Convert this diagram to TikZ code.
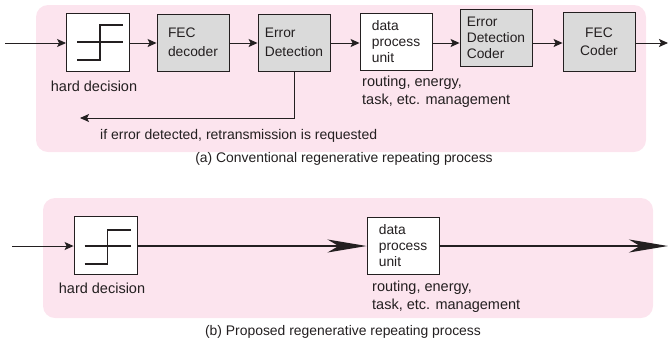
\documentclass[tikz,border=0pt]{standalone}
\usepackage{fontspec}
\setmainfont{Liberation Sans}
\usetikzlibrary{arrows.meta}
\definecolor{panelpink}{RGB}{252,228,238}
\definecolor{boxgray}{RGB}{218,218,218}
\definecolor{ink}{RGB}{35,31,32}
\tikzset{
  panel/.style={fill=panelpink, draw=none, rounded corners=12pt},
  blk/.style={draw=ink, line width=0.9pt, minimum width=72pt, minimum height=57pt, inner sep=0pt, align=left, text=ink, font=\fontsize{13.8}{19}\selectfont},
  whiteblk/.style={blk, fill=white},
  grayblk/.style={blk, fill=boxgray},
  hdblk/.style={draw=ink, line width=0.9pt, fill=white, minimum width=63pt, minimum height=58pt, inner sep=0pt},
  stepline/.style={draw=ink, line width=1.6pt},
  thinarrow/.style={draw=ink, line width=0.9pt, -{Stealth[length=9pt,width=8pt,inset=2pt]}},
  thickarrow/.style={draw=ink, line width=2.3pt, -{Stealth[length=39pt,width=13pt,inset=11pt]}},
  lbl/.style={text=ink, font=\fontsize{14.5}{17.5}\selectfont, inner sep=0pt, align=left},
  captext/.style={text=ink, font=\fontsize{13.9}{16}\selectfont, inner sep=0pt}
}
\begin{document}
\begin{tikzpicture}[x=1pt,y=-1pt]
\useasboundingbox (0,0) rectangle (668,346);
% panels
\fill[panel] (36,5) rectangle (646,152);
\fill[panel] (43,198) rectangle (653,318);
% ---------- top ----------
\coordinate (inA) at (5,43);
\node[hdblk] (hdA) at (98,42) {};
\draw[stepline] ([shift={(-21,0)}]hdA.center) -- ([shift={(25,0)}]hdA.center);
\draw[stepline] ([shift={(-21,18)}]hdA.center) -- ([shift={(2,18)}]hdA.center) -- ([shift={(2,-17)}]hdA.center) -- ([shift={(25,-17)}]hdA.center);
\node[grayblk] (fecd) at (193,42.5) {FEC\\decoder};
\node[grayblk] (ed) at (294,42.5) {Error\\Detection};
\node[whiteblk, font=\fontsize{13.8}{16}\selectfont] (dpu) at (396,42) {data\\process\\unit};
\node[grayblk, font=\fontsize{13.8}{16}\selectfont] (edc) at (496,38) {Error\\Detection\\Coder};
\node[grayblk, align=center, font=\fontsize{13.8}{18}\selectfont, minimum height=59pt] (fecc) at (599,41.5) {FEC\\Coder};
\coordinate (outA) at (668,43);
\draw[thinarrow] (inA) -- (inA -| hdA.west);
\draw[thinarrow] (hdA.east |- inA) -- (fecd.west |- inA);
\draw[thinarrow] (fecd.east |- inA) -- (ed.west |- inA);
\draw[thinarrow] (ed.east |- inA) -- (dpu.west |- inA);
\draw[thinarrow] (dpu.east |- inA) -- (edc.west |- inA);
\draw[thinarrow] (edc.east |- inA) -- (fecc.west |- inA);
\draw[thinarrow] (fecc.east |- inA) -- (outA);
\coordinate (fb) at (80,118);
\draw[thinarrow] (ed.south) |- (fb);
\node[lbl] (hdlA) at (94,86) {hard decision};
\node[lbl, anchor=north west] (mgA) at (362,76) {routing, energy,\\task, etc. management};
\node[lbl, anchor=west, font=\fontsize{14}{17}\selectfont] (fbt) at (100,136) {if error detected, retransmission is requested};
\node[captext] (capA) at (344,159) {(a) Conventional regenerative repeating process};
% ---------- bottom ----------
\coordinate (inB) at (12,246);
\node[hdblk] (hdB) at (105.5,245) {};
\draw[stepline] ([shift={(-21,1)}]hdB.center) -- ([shift={(25,1)}]hdB.center);
\draw[stepline] ([shift={(-21,19)}]hdB.center) -- ([shift={(2,19)}]hdB.center) -- ([shift={(2,-15)}]hdB.center) -- ([shift={(25,-15)}]hdB.center);
\node[whiteblk, font=\fontsize{13.8}{16}\selectfont] (dpuB) at (403,245.5) {data\\process\\unit};
\coordinate (outB) at (668,246);
\draw[thinarrow] (inB) -- (inB -| hdB.west);
\draw[thickarrow] (hdB.east |- inB) -- (dpuB.west |- inB);
\draw[thickarrow] (dpuB.east |- inB) -- (outB);
\node[lbl] (hdlB) at (102,288) {hard decision};
\node[lbl, anchor=north west] (mgB) at (372,281) {routing, energy,\\task, etc. management};
\node[captext] (capB) at (343,332) {(b) Proposed regenerative repeating process};
\end{tikzpicture}
\end{document}
